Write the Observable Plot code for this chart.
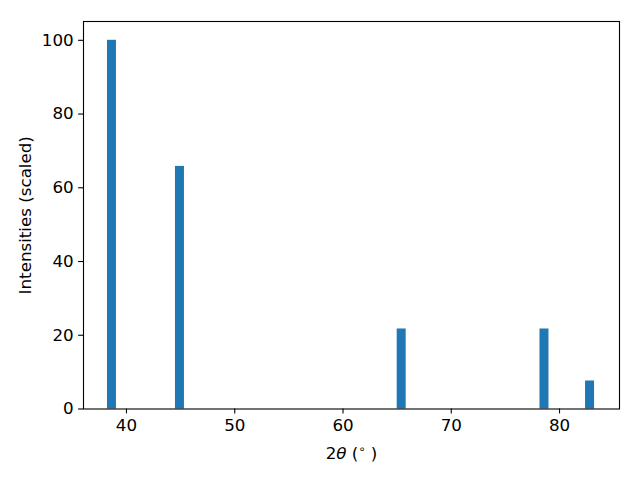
<!DOCTYPE html>
<html>
<head>
<meta charset="utf-8">
<script src="https://cdn.jsdelivr.net/npm/d3@7"></script>
<script src="https://cdn.jsdelivr.net/npm/@observablehq/plot@0.6"></script>
<style>
  html, body { margin: 0; padding: 0; background: #fff; }
</style>
</head>
<body>
<div id="chart"></div>
<script>
// Peak positions (2θ, degrees) and scaled intensities
const twoTheta = [38.66, 44.94, 65.42, 78.61, 82.82];
const intensities = [100, 65.8, 21.7, 21.7, 7.6];
const binWidth = 0.83;
const xTicks = [40, 50, 60, 70, 80];
const yTicks = [0, 20, 40, 60, 80, 100];
const xLabel = "2θ (°)";
const yLabel = "Intensities (scaled)";

const data = twoTheta.map((x, i) => ({x, y: intensities[i]}));

const font = "'DejaVu Sans', sans-serif";
const plot = Plot.plot({
  width: 640,
  height: 480,
  marginLeft: 83,
  marginRight: 21,
  marginTop: 21,
  marginBottom: 71.5,
  style: {fontFamily: font, fontSize: "16.7px", color: "black", background: "white"},
  x: {domain: [36.03, 85.54]},
  y: {domain: [0, 105.1]},
  marks: [
    Plot.rectY(data, {x1: d => d.x - binWidth / 2, x2: d => d.x + binWidth / 2, y: "y", fill: "#1f77b4", inset: 0}),
    Plot.axisX({ticks: xTicks, tickSize: 4.9, tickPadding: 4.9, label: null, tickFormat: d => String(d), strokeWidth: 1.1}),
    Plot.axisY({ticks: yTicks, tickSize: 4.9, tickPadding: 4.9, label: null, tickFormat: d => String(d), strokeWidth: 1.1}),
    Plot.frame({stroke: "black", strokeWidth: 1.1}),
    Plot.text([xLabel], {frameAnchor: "bottom", lineAnchor: "middle", textAnchor: "middle", dy: 45, text: d => d, fontSize: 16.7}),
    Plot.text([yLabel], {frameAnchor: "left", lineAnchor: "middle", textAnchor: "middle", rotate: -90, dx: -58, text: d => d, fontSize: 16.7})
  ]
});
document.getElementById("chart").appendChild(plot);

// Render the x label like matplotlib mathtext: italic θ and superscript ∘
d3.select(plot).selectAll("text").filter(function() { return this.textContent === xLabel; }).each(function() {
  const t = d3.select(this);
  t.text(null);
  t.append("tspan").text("2");
  t.append("tspan").attr("font-style", "italic").text("θ");
  t.append("tspan").text(" (");
  t.append("tspan").attr("font-size", "11.5px").attr("dy", "-6").text("∘");
  t.append("tspan").attr("dy", "6").text(" )");
});
</script>
</body>
</html>
